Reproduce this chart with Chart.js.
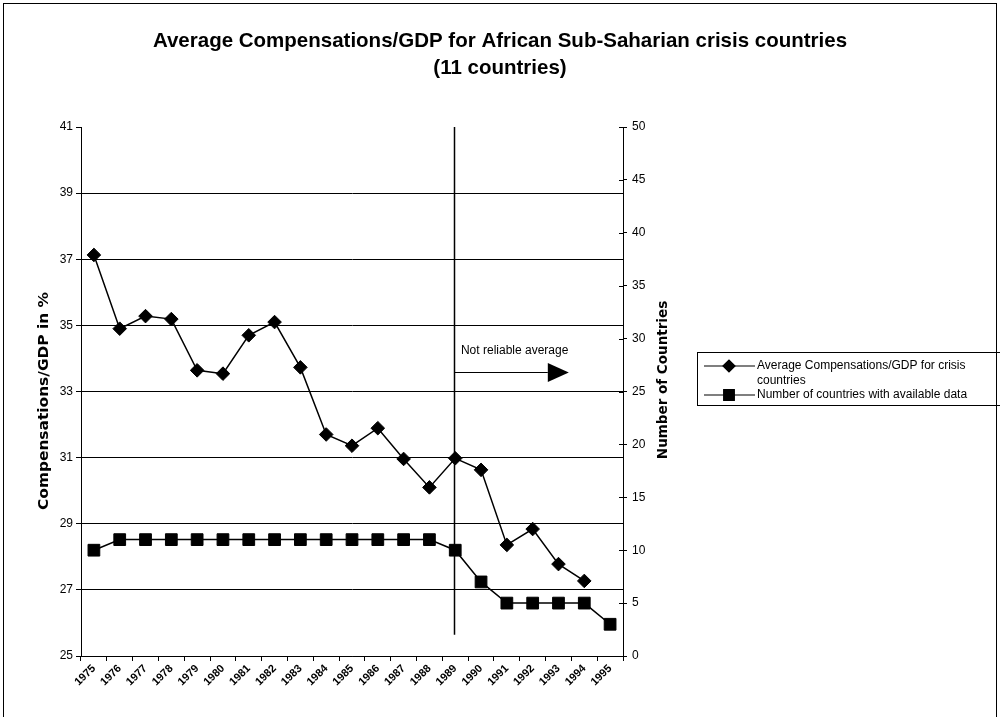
<!DOCTYPE html>
<html>
<head>
<meta charset="utf-8">
<script src="https://cdn.jsdelivr.net/npm/chart.js@4.4.1/dist/chart.umd.min.js"></script>
<style>
  html, body { margin: 0; padding: 0; background: #fff; }
  #wrap { width: 1000px; height: 717px; position: relative; }
</style>
</head>
<body>
<div id="wrap"><canvas id="c" width="1000" height="717"></canvas></div>
<script>
// Years on the category axis
const years = ['1975','1976','1977','1978','1979','1980','1981','1982','1983','1984','1985',
               '1986','1987','1988','1989','1990','1991','1992','1993','1994','1995'];

// Average compensations / GDP (%), left axis
const avgCompRatio = [37.13, 34.9, 35.28, 35.19, 33.64, 33.54, 34.7, 35.1, 33.73, 31.7, 31.36,
                      31.89, 30.96, 30.1, 30.98, 30.63, 28.36, 28.84, 27.78, 27.27, null];

// Number of countries with available data, right axis
const countriesWithData = [10, 11, 11, 11, 11, 11, 11, 11, 11, 11, 11, 11, 11, 11, 10, 7, 5, 5, 5, 5, 3];

const seriesLabels = ['Average Compensations/GDP for crisis countries',
                      'Number of countries with available data'];
const titleLines = ['Average Compensations/GDP for African Sub-Saharian crisis countries', '(11 countries)'];
const leftAxisTitle = 'Compensations/GDP in %';
const rightAxisTitle = 'Number of Countries';
const noteText = 'Not reliable average';
const noteYear = '1989';        // from this year on the average is unreliable
const noteLineBottom = 2;       // lower end of the marker line, in countries
const noteArrowLevel = 26.8;    // arrow height, in countries
const noteArrowEnd = 18.4;      // arrow tip, in category units

const FONT = '"Liberation Sans", Arial, sans-serif';

// draws rotated text stretched along its baseline
function verticalText(c, text, x, y, stretch) {
  c.save();
  c.translate(x, y);
  c.rotate(-Math.PI / 2);
  c.scale(stretch, 1);
  c.fillText(text, 0, 0);
  c.restore();
}

const decorations = {
  id: 'decorations',
  beforeDraw(chart) {
    const c = chart.ctx;
    c.save();
    c.fillStyle = '#fff';
    c.fillRect(0, 0, chart.width, chart.height);
    c.restore();
  },
  beforeDatasetsDraw(chart) {
    const c = chart.ctx, x = chart.scales.x, y1 = chart.scales.y1, area = chart.chartArea;
    const xi = years.indexOf(noteYear);
    const lx = Math.round(x.getPixelForValue(xi)) - 0.5;
    c.save();
    c.strokeStyle = '#000';
    c.lineWidth = 1.5;
    c.beginPath();
    c.moveTo(lx, area.top);
    c.lineTo(lx, y1.getPixelForValue(noteLineBottom));
    c.stroke();
    // arrow
    const ay = Math.round(y1.getPixelForValue(noteArrowLevel)) + 0.5;
    const tip = x.getPixelForValue(noteArrowEnd);
    const headLen = 21, headHalf = 9.5;
    c.lineWidth = 1;
    c.beginPath();
    c.moveTo(lx, ay);
    c.lineTo(tip - headLen, ay);
    c.stroke();
    c.fillStyle = '#000';
    c.beginPath();
    c.moveTo(tip, ay);
    c.lineTo(tip - headLen, ay - headHalf);
    c.lineTo(tip - headLen, ay + headHalf);
    c.closePath();
    c.fill();
    c.font = '12px ' + FONT;
    c.textAlign = 'center';
    c.textBaseline = 'middle';
    c.fillText(noteText, (lx + tip) / 2 + 3, ay - 22);
    c.restore();
  },
  afterDraw(chart) {
    const c = chart.ctx;
    c.save();
    c.fillStyle = '#000';
    c.strokeStyle = '#000';
    // outer frame
    c.lineWidth = 1;
    c.strokeRect(3.5, 3.5, 993, 720);
    // title
    c.font = 'bold 20.5px ' + FONT;
    c.textAlign = 'center';
    c.textBaseline = 'middle';
    c.fillText(titleLines[0], 500, 41);
    c.fillText(titleLines[1], 500, 68);
    // axis titles
    c.font = 'bold 14px "DejaVu Sans", sans-serif';
    verticalText(c, leftAxisTitle, 44, 401, 1.1);
    c.font = 'bold 13.5px "DejaVu Sans", sans-serif';
    verticalText(c, rightAxisTitle, 663, 380, 1.0);
    // right axis inner tick marks
    const y1 = chart.scales.y1;
    c.lineWidth = 1;
    y1.ticks.forEach(t => {
      const py = Math.round(y1.getPixelForValue(t.value)) + 0.5;
      c.beginPath();
      c.moveTo(y1.left - 4, py);
      c.lineTo(y1.left, py);
      c.stroke();
    });
    // legend
    const bx = 697.5, by = 352.5, bw = 310, bh = 53;
    c.strokeRect(bx, by, bw, bh);
    const rows = [
      { lines: ['Average Compensations/GDP for crisis', 'countries'], y: 366, style: 'rectRot', r: 6 },
      { lines: ['Number of countries with available data'], y: 395, style: 'rect', r: 7.5 }
    ];
    c.font = '12px ' + FONT;
    c.textAlign = 'left';
    rows.forEach(row => {
      c.lineWidth = 1.2;
      c.beginPath();
      c.moveTo(704, row.y);
      c.lineTo(755, row.y);
      c.stroke();
      Chart.helpers.drawPoint(c, { pointStyle: row.style, radius: row.r, borderWidth: 1 }, 729, row.y);
      c.fill();
      row.lines.forEach((ln, k) => c.fillText(ln, 757, row.y + k * 14.5));
    });
    c.restore();
  }
};

new Chart(document.getElementById('c'), {
  type: 'line',
  data: {
    labels: years,
    datasets: [
      {
        label: seriesLabels[0],
        data: avgCompRatio,
        yAxisID: 'y',
        borderColor: '#000',
        backgroundColor: '#000',
        borderWidth: 1.5,
        pointStyle: 'rectRot',
        pointRadius: 6.8,
        pointHoverRadius: 6.8,
        pointBorderWidth: 1,
        tension: 0
      },
      {
        label: seriesLabels[1],
        data: countriesWithData,
        yAxisID: 'y1',
        borderColor: '#000',
        backgroundColor: '#000',
        borderWidth: 1.5,
        pointStyle: 'rect',
        pointRadius: 8.3,
        pointHoverRadius: 8.3,
        pointBorderWidth: 1,
        tension: 0
      }
    ]
  },
  options: {
    responsive: false,
    animation: false,
    devicePixelRatio: 1,
    events: [],
    layout: { padding: { left: 0, top: 127, right: 317, bottom: 0 } },
    plugins: { legend: { display: false }, title: { display: false }, tooltip: { enabled: false } },
    scales: {
      x: {
        type: 'category',
        offset: true,
        grid: { offset: true, drawOnChartArea: false, tickLength: 5, tickColor: '#000' },
        border: { color: '#000', width: 1 },
        ticks: {
          color: '#000',
          font: { family: FONT, size: 11, weight: 'bold' },
          minRotation: 45, maxRotation: 45, autoSkip: false, padding: 1
        },
        afterFit(s) { s.height = 61; }
      },
      y: {
        position: 'left',
        min: 25, max: 41,
        grid: {
          color: ctx => (ctx.tick && ctx.tick.value === 41) ? 'rgba(0,0,0,0)' : '#000',
          tickColor: '#000', tickLength: 5, lineWidth: 1
        },
        border: { color: '#000', width: 1 },
        ticks: { stepSize: 2, color: '#000', font: { family: FONT, size: 12 }, padding: 3 },
        afterFit(s) { s.width = 81; }
      },
      y1: {
        position: 'right',
        min: 0, max: 50,
        grid: { drawOnChartArea: false, tickColor: '#000', tickLength: 4 },
        border: { color: '#000', width: 1 },
        ticks: { stepSize: 5, color: '#000', font: { family: FONT, size: 12 }, padding: 5 },
        afterFit(s) { s.width = 60; }
      }
    }
  },
  plugins: [decorations]
});
</script>
</body>
</html>
